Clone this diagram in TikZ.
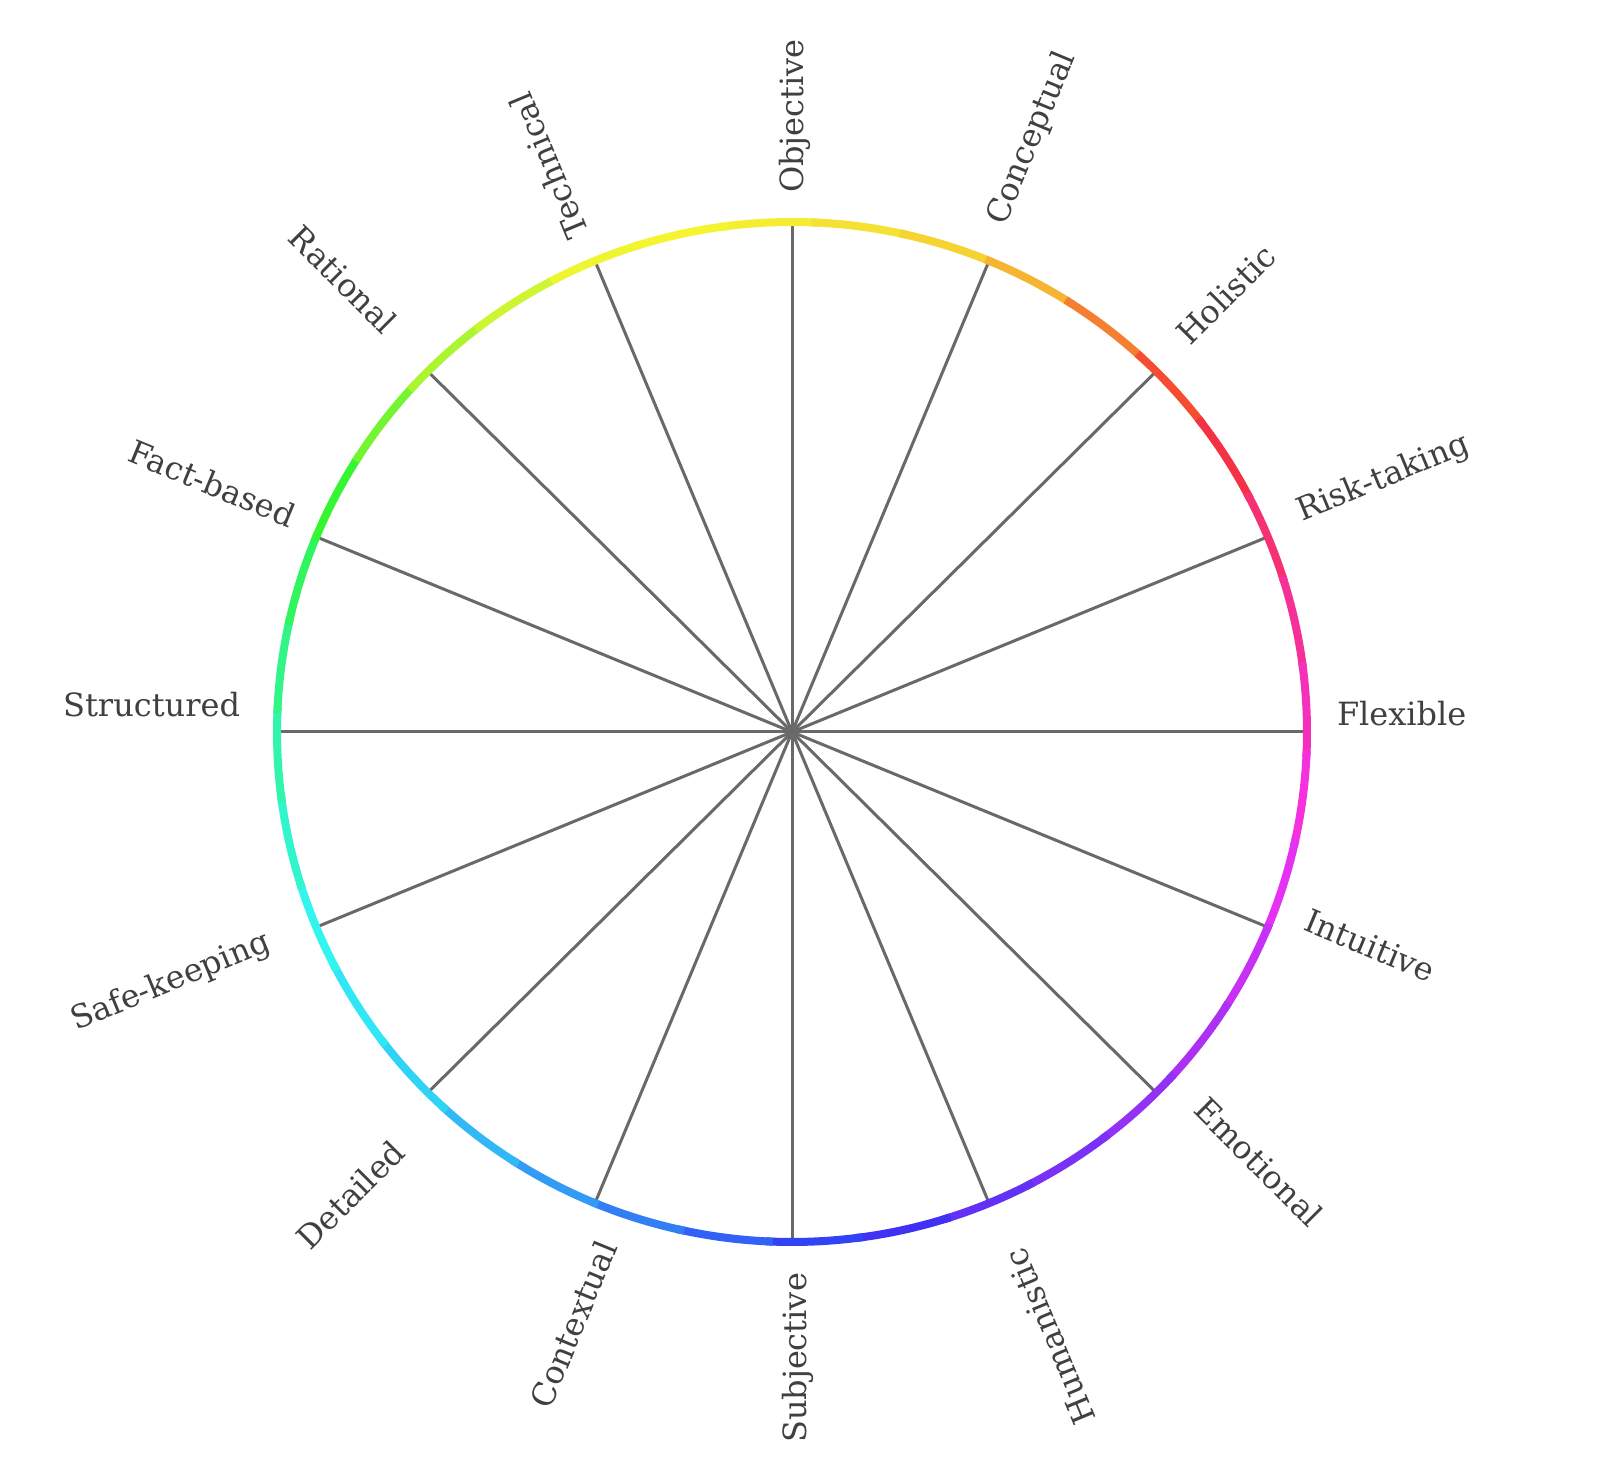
\documentclass[tikz,border=0pt]{standalone}
\usepackage{fontspec}
\setmainfont{DejaVu Serif}
\usetikzlibrary{calc}
\definecolor{spokegray}{RGB}{105,105,105}
\definecolor{labgray}{RGB}{64,64,64}
\tikzset{
  spoke/.style={draw=spokegray, line width=3pt},
  ringseg/.style={line width=8pt, line cap=butt},
  lab/.style={inner sep=0pt, outer sep=0pt, text=labgray, font=\fontsize{32}{38}\selectfont},
}
\begin{document}
\begin{tikzpicture}[x=1pt,y=1pt]
\useasboundingbox (0,0) rectangle (1600,1483);
\fill[white] (0,0) rectangle (1600,1483);
\coordinate (c) at (792,751);
% spokes
\foreach \a [count=\i] in {90,67.5,45,22.5,0,-22.5,-45,-67.5,-90,-112.5,-135,-157.5,-180,-202.5,-225,-247.5} {
  \coordinate (e\i) at ($(c)+(\a:515 and 510)$);
  \draw[spoke] (c) -- (e\i);
}
% colour ring
\foreach \k in {0,...,35} {
  \pgfmathsetmacro\sa{97.5-10*\k}
  \pgfmathsetmacro\s{mod(10*\k-2.5+360,360)}
  \pgfmathtruncatemacro\idx{floor(\s/22.5)}
  \pgfmathsetmacro\t{(\s-22.5*\idx)/22.5}
  \pgfmathsetmacro\hA{{57,48,12,-20,-45,-70,-88,-105,-128,-148,-168,-182,-205,-232,-275,-298,-303}[\idx]}
  \pgfmathtruncatemacro\idxB{\idx+1}
  \pgfmathsetmacro\hB{{57,48,12,-20,-45,-70,-88,-105,-128,-148,-168,-182,-205,-232,-275,-298,-303}[\idxB]}
  \pgfmathsetmacro\hue{\hA+\t*(\hB-\hA)}
  \pgfmathsetmacro\h{mod(\hue+720,360)/360}
  \convertcolorspec{hsb}{\h,0.8,0.96}{rgb}\segrgb
  \definecolor{segc}{rgb}{\segrgb}
  \draw[draw=segc, ringseg] ($(c)+(\sa+0.4:515 and 510)$) arc[start angle=\sa+0.4, end angle=\sa-10.4, x radius=515, y radius=510];
}
% labels
\node[lab, rotate=90,    anchor=base west] (objective)  at (803,1290) {Objective};
\node[lab, rotate=67.5,  anchor=base west] (conceptual) at (1005,1256) {Conceptual};
\node[lab, rotate=45,    anchor=base west] (holistic)   at (1190,1136) {Holistic};
\node[lab, rotate=22.5,  anchor=base west] (risk)       at (1302,961) {Risk-taking};
\node[lab, rotate=0,     anchor=base west] (flexible)   at (1337,757) {Flexible};
\node[lab, rotate=-22.5, anchor=base west] (intuitive)  at (1302,553) {Intuitive};
\node[lab, rotate=-45,   anchor=base west] (emotional)  at (1192,371) {Emotional};
\node[lab, rotate=112.5, anchor=base east] (humanistic) at (1025,237) {Humanistic};
\node[lab, rotate=90,    anchor=base east] (subjective) at (806,210) {Subjective};
\node[lab, rotate=67.5,  anchor=base east] (contextual) at (618,236) {Contextual};
\node[lab, rotate=45,    anchor=base east] (detailed)   at (407,328) {Detailed};
\node[lab, rotate=22.5,  anchor=base east] (safe)       at (272,533) {Safe-keeping};
\node[lab, rotate=0,     anchor=base east] (structured) at (240,766) {Structured};
\node[lab, rotate=-22.5, anchor=base east] (fact)       at (289,955) {Fact-based};
\node[lab, rotate=-45,   anchor=base east] (rational)   at (383,1147) {Rational};
\node[lab, rotate=112.5, anchor=base west] (technical)  at (589,1250) {Technical};
\end{tikzpicture}
\end{document}
